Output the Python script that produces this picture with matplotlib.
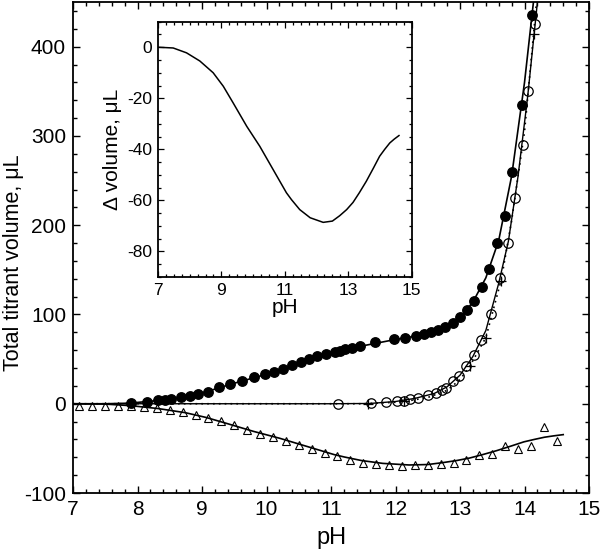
import numpy as np
import matplotlib
matplotlib.use("Agg")
import matplotlib.pyplot as plt
from matplotlib.ticker import MultipleLocator, FixedLocator

plt.rcParams['font.family'] = ['Liberation Sans', 'DejaVu Sans']
plt.rcParams['axes.unicode_minus'] = False

# filled circles (total titrant, sample)
ph_full = [7.90, 8.14, 8.31, 8.43, 8.52, 8.68, 8.81, 8.94, 9.09, 9.27, 9.43, 9.62,
           9.80, 9.98, 10.12, 10.26, 10.39, 10.53, 10.66, 10.79, 10.92, 11.06, 11.14,
           11.22, 11.32, 11.45, 11.68, 11.97, 12.15, 12.32, 12.44, 12.55, 12.66, 12.76,
           12.89, 13.00, 13.11, 13.22, 13.34, 13.45, 13.58, 13.69, 13.81, 13.96, 14.12]
vol_full = [1, 2, 3.7, 4.5, 5, 7, 9, 11, 13.7, 18.5, 22, 25.7,
            30, 33, 36, 39, 43, 47, 50, 53, 56, 58, 59.5,
            61, 62.5, 65, 69, 72, 74, 76, 78, 80, 83, 86,
            90, 97, 105, 115, 131, 151, 180, 210, 260, 335, 436]

# open circles (blank)
ph_blank = [11.11, 11.62, 11.86, 12.02, 12.13, 12.22, 12.35, 12.50, 12.63, 12.72, 12.79,
            12.89, 12.99, 13.09, 13.21, 13.33, 13.48, 13.62, 13.74, 13.85, 13.97, 14.06, 14.17]
vol_blank = [0, 0.3, 2, 2.6, 3, 4.8, 6.7, 9.3, 12, 15, 18,
             25, 31.6, 42, 55, 71, 100, 140.6, 180, 230, 290, 350, 425]

# plus markers (calculated blank)
ph_calc = [11.58, 12.13, 13.15, 13.41, 13.64, 14.14]
vol_calc = [0, 3, 42, 73.6, 137, 414]

# triangles (difference)
ph_diff = [7.1, 7.3, 7.5, 7.7, 7.9, 8.1, 8.3, 8.5, 8.7, 8.9, 9.1, 9.3, 9.5, 9.7, 9.9,
           10.1, 10.3, 10.5, 10.7, 10.9, 11.1, 11.3, 11.5, 11.7, 11.9, 12.1, 12.3, 12.5,
           12.7, 12.9, 13.1, 13.3, 13.5, 13.7, 13.9, 14.1, 14.3, 14.5]
vol_diff = [-2, -2, -2.3, -2.3, -2.6, -3.5, -4.8, -6.8, -9.2, -12.3, -15.7, -19.3, -24, -29.3, -33.5,
            -37.5, -41.5, -46.5, -51, -55.5, -59, -63, -66, -68, -69, -69.6, -69, -68.5,
            -67, -66, -63, -57.7, -56, -47.5, -51, -47.5, -25.5, -42]

# fitted curves
fit_full_ph = [7.0, 7.5, 7.8, 8.0, 8.3, 8.6, 9.0, 9.5, 10.0, 10.5, 11.0, 11.5, 12.0,
               12.5, 12.8, 13.0, 13.2, 13.4, 13.6, 13.8, 14.0, 14.2]
fit_full_vol = [0, 0, 0.5, 1.5, 3.5, 6, 12, 23, 33, 45, 56, 65, 72,
                78, 86, 96, 114, 141, 183, 255, 360, 490]

fit_blank_ph = [7.0, 11.0, 11.6, 12.0, 12.3, 12.6, 12.8, 13.0, 13.2, 13.4, 13.6, 13.75,
                13.9, 14.05, 14.2, 14.3]
fit_blank_vol = [0, 0, 0.3, 2.5, 6, 11.5, 19, 32, 53, 82, 135, 182,
                 255, 345, 450, 520]

fit_calc_ph = [7.0, 11.5, 12.1, 12.5, 12.8, 13.0, 13.15, 13.4, 13.64, 13.8, 14.0, 14.14, 14.25]
fit_calc_vol = [0, 0, 2, 7, 15, 27, 42, 74, 139, 205, 305, 414, 500]

fit_diff_ph = [7.0, 7.48, 7.90, 8.32, 8.74, 9.06, 9.37, 9.80, 10.21, 10.63, 11.05, 11.21,
               11.47, 11.8, 12.21, 12.5, 12.73, 12.95, 13.15, 13.35, 13.57, 13.8, 13.99,
               14.15, 14.31, 14.45, 14.60]
fit_diff_vol = [0, -0.3, -2.2, -5.4, -10, -15.3, -21.8, -31, -38.8, -47.9, -57, -59.7,
                -63.6, -66.8, -68.6, -68.1, -66, -63.6, -60.8, -57, -52.5, -47.2, -42.7,
                -40, -37.5, -36, -34.6]

inset_xticks = [7, 9, 11, 13, 15]

fig = plt.figure(figsize=(6.0, 5.56), dpi=100)
ax = fig.add_axes([0.1217, 0.1133, 0.86, 0.883])

ax.plot(fit_full_ph, fit_full_vol, color='black', lw=1.2)
ax.plot(fit_blank_ph, fit_blank_vol, color='black', lw=1.0)
ax.plot(fit_calc_ph, fit_calc_vol, color='black', lw=1.2, ls=(0, (1, 2.5)))
ax.plot(fit_diff_ph, fit_diff_vol, color='black', lw=1.2)

ax.plot(ph_full, vol_full, 'o', color='black', ms=6.8)
ax.plot(ph_blank, vol_blank, 'o', mfc='none', mec='black', mew=0.9, ms=6.8)
ax.plot(ph_calc, vol_calc, '+', color='black', ms=7, mew=0.9)
ax.plot(ph_diff, vol_diff, '^', mfc='none', mec='black', mew=0.8, ms=6)

ax.set_xlim(7, 15)
ax.set_ylim(-100, 450)
ax.xaxis.set_major_locator(MultipleLocator(1))
ax.xaxis.set_minor_locator(MultipleLocator(0.2))
ax.yaxis.set_major_locator(MultipleLocator(100))
ax.yaxis.set_minor_locator(MultipleLocator(20))
ax.tick_params(which='both', direction='in', top=True, right=True, labelsize=15, width=1.0)
ax.tick_params(which='major', length=5, pad=5)
ax.tick_params(which='minor', length=3)
for s in ax.spines.values():
    s.set_linewidth(1.3)
ax.set_xlabel('pH', fontsize=17, labelpad=6)
ax.set_ylabel('Total titrant volume, μL', fontsize=15.5)
ax.yaxis.set_label_coords(-0.095, 0.47)

ins = fig.add_axes([0.2633, 0.5018, 0.4228, 0.4592])
ins.plot(fit_diff_ph, fit_diff_vol, color='black', lw=1.1)
ins.set_xlim(7, 15)
ins.set_ylim(-90, 10)
ins.xaxis.set_major_locator(FixedLocator(inset_xticks))
ins.xaxis.set_minor_locator(MultipleLocator(0.25))
ins.yaxis.set_major_locator(MultipleLocator(20))
ins.yaxis.set_minor_locator(MultipleLocator(5))
ins.tick_params(which='both', direction='in', top=True, right=True, labelsize=12.5, width=0.9)
ins.tick_params(which='major', length=4, pad=4)
ins.tick_params(which='minor', length=2)
for s in ins.spines.values():
    s.set_linewidth(1.3)
ins.set_xlabel('pH', fontsize=15, labelpad=0)
ins.set_ylabel('Δ volume, μL', fontsize=15, labelpad=4)

fig.savefig('out.png', dpi=100)
